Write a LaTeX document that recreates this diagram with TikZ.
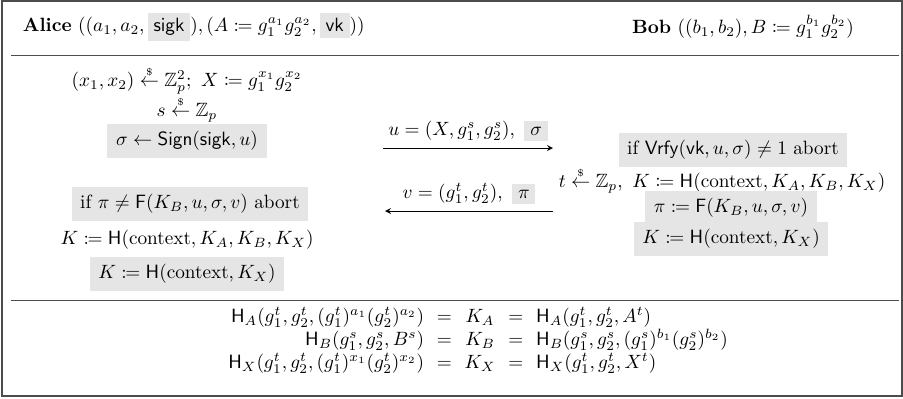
\documentclass[tikz,border=0pt]{standalone}
\usepackage{amsmath}
\usepackage{amssymb}
\usepackage{mathtools}
\usepackage{tikz}
\usetikzlibrary{arrows}

\newcommand{\rnd}{\overset{\scriptscriptstyle\$}{\leftarrow}}
\newcommand{\gbox}[1]{\colorbox{gray!20}{$#1$}}

\begin{document}
\begin{tikzpicture}[x=0.52pt,y=-0.52pt,>=stealth,
  hl/.style={fill=gray!20,inner xsep=4.5pt,inner ysep=4pt},
  pl/.style={inner sep=1pt}]
\useasboundingbox (0,0) rectangle (903,398);
% cornice e righe di separazione
\draw[black!70,thick] (2,1) rectangle (902,396);
\draw[black!70] (11,55) -- (899,55);
\draw[black!70] (11,300) -- (899,300);
% intestazione
\node[anchor=west] (alice) at (16,27) {\textbf{Alice} $((a_1,a_2,\gbox{\mathsf{sigk}}),(A\coloneqq g_1^{a_1}g_2^{a_2},\gbox{\mathsf{vk}}))$};
\node (bob) at (743,27) {\textbf{Bob} $((b_1,b_2),B\coloneqq g_1^{b_1}g_2^{b_2})$};
% lato di Alice
\node[pl] (a1) at (187,80) {$(x_1,x_2)\rnd\mathbb{Z}_p^2;\ X\coloneqq g_1^{x_1}g_2^{x_2}$};
\node[pl] (a2) at (187,109) {$s\rnd\mathbb{Z}_p$};
\node[hl] (a3) at (187,141) {$\sigma\leftarrow\mathsf{Sign}(\mathsf{sigk},u)$};
\node[hl] (a4) at (190,204) {if $\pi\neq\mathsf{F}(K_B,u,\sigma,v)$ abort};
\node[pl] (a5) at (187,240) {$K\coloneqq\mathsf{H}(\text{context},K_A,K_B,K_X)$};
\node[hl] (a6) at (187,274) {$K\coloneqq\mathsf{H}(\text{context},K_X)$};
% lato di Bob
\node[hl] (b1) at (733,150) {if $\mathsf{Vrfy}(\mathsf{vk},u,\sigma)\neq1$ abort};
\node[pl] (b2) at (722,180) {$t\rnd\mathbb{Z}_p,\ K\coloneqq\mathsf{H}(\text{context},K_A,K_B,K_X)$};
\node[hl] (b3) at (731,208) {$\pi\coloneqq\mathsf{F}(K_B,u,\sigma,v)$};
\node[hl] (b4) at (731,239) {$K\coloneqq\mathsf{H}(\text{context},K_X)$};
% messaggi
\coordinate (m1a) at (383,148);
\coordinate (m1b) at (553,148);
\draw[->] (m1a) -- node[above] {$u=(X,g_1^s,g_2^s),\ \gbox{\sigma}$} (m1b);
\coordinate (m2a) at (553,211);
\coordinate (m2b) at (385,211);
\draw[->] (m2a) -- node[above] {$v=(g_1^t,g_2^t),\ \gbox{\pi}$} (m2b);
% chiavi
\node (eqs) at (478,341) {$\begin{array}{r@{\ \ =\ \ }c@{\ \ =\ \ }l}
\mathsf{H}_A(g_1^t,g_2^t,(g_1^t)^{a_1}(g_2^t)^{a_2}) & K_A & \mathsf{H}_A(g_1^t,g_2^t,A^t)\\
\mathsf{H}_B(g_1^s,g_2^s,B^s) & K_B & \mathsf{H}_B(g_1^s,g_2^s,(g_1^s)^{b_1}(g_2^s)^{b_2})\\
\mathsf{H}_X(g_1^t,g_2^t,(g_1^t)^{x_1}(g_2^t)^{x_2}) & K_X & \mathsf{H}_X(g_1^t,g_2^t,X^t)
\end{array}$};
\end{tikzpicture}
\end{document}
